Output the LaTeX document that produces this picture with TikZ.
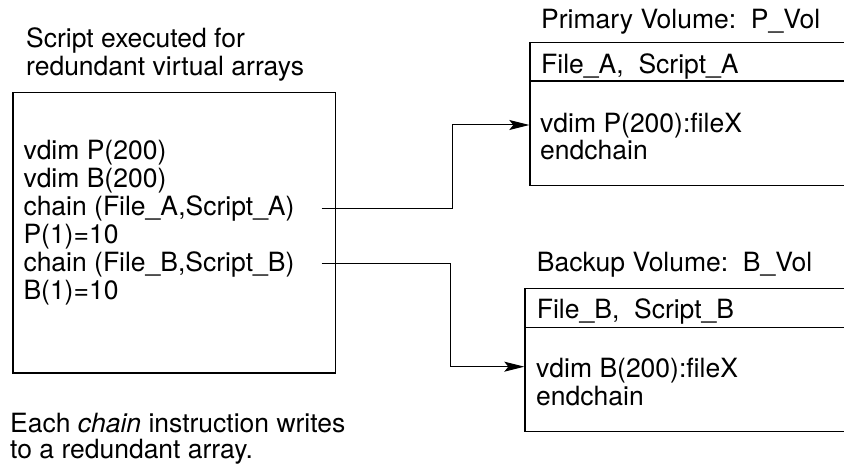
\documentclass[tikz,border=0pt]{standalone}
\usepackage{fontspec}
\setmainfont{TeX Gyre Heros}
\usetikzlibrary{arrows.meta}
\begin{document}
\begin{tikzpicture}[x=1pt,y=-1pt,
  txt/.style={anchor=base west,inner sep=0pt,font=\fontsize{26.5}{28}\selectfont},
  frame/.style={draw,line width=1.2pt,inner sep=0pt,anchor=north west},
  rule/.style={draw,line width=1.2pt},
  conn/.style={draw,line width=1pt,-{Stealth[length=20pt,width=10pt,inset=4pt]}}]
\useasboundingbox (0,0) rectangle (844,465);
\clip (0,0) rectangle (844,465);

% left script box
\node[txt] (t1) at (26,48) {Script executed for};
\node[txt] (t2) at (26,75.5) {redundant virtual arrays};
\node[frame,minimum width=322.7pt,minimum height=280pt] (script) at (12.3,92.3) {};
\node[txt] (l1) at (23.3,159.3) {vdim P(200)};
\node[txt] (l2) at (23.3,187.3) {vdim B(200)};
\node[txt] (l3) at (23.3,215.3) {chain (File\_A,Script\_A)};
\node[txt] (l4) at (23.3,243.3) {P(1)=10};
\node[txt] (l5) at (23.3,271.3) {chain (File\_B,Script\_B)};
\node[txt] (l6) at (23.3,299.3) {B(1)=10};

% primary volume
\node[txt] (ptitle) at (541,28.3) {Primary Volume:\ \ P\_Vol};
\node[frame,minimum width=400pt,minimum height=143.3pt] (pbox) at (529.3,41.7) {};
\coordinate (phl) at (529.3,81);
\draw[rule] (phl) -- (pbox.east |- phl);
\node[txt] (phead) at (541,73.3) {File\_A,\ \ Script\_A};
\node[txt] (pl1) at (540,132.7) {vdim P(200):fileX};
\node[txt] (pl2) at (540,160) {endchain};

% backup volume
\node[txt] (btitle) at (536.7,271.7) {Backup Volume:\ \ B\_Vol};
\node[frame,minimum width=400pt,minimum height=143pt] (bbox) at (524.3,287.7) {};
\coordinate (bhl) at (524.3,327.3);
\draw[rule] (bhl) -- (bbox.east |- bhl);
\node[txt] (bhead) at (536.7,318.3) {File\_B,\ \ Script\_B};
\node[txt] (bl1) at (536,377.3) {vdim B(200):fileX};
\node[txt] (bl2) at (536,405) {endchain};

% footnote
\node[txt] (n1) at (10,432) {Each \textit{chain} instruction writes};
\node[txt] (n2) at (10,458.3) {to a redundant array.};

% connectors
\coordinate (a0) at (321.7,208.3);
\coordinate (a1) at (452.3,208.3);
\coordinate (ain) at (529.3,125);
\draw[conn] (a0) -- (a1) |- (ain);
\coordinate (b0) at (321.7,264);
\coordinate (b1) at (450,264);
\coordinate (bin) at (524.3,366.7);
\draw[conn] (b0) -- (b1) |- (bin);
\end{tikzpicture}
\end{document}
